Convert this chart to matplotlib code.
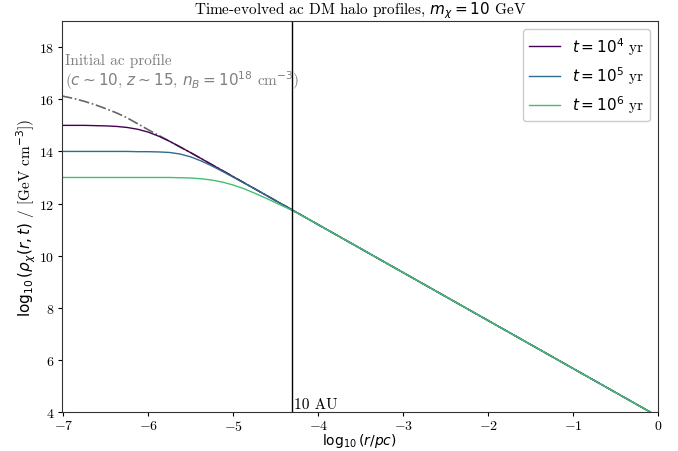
"""Time-evolved adiabatically contracted DM halo profiles."""

import matplotlib

matplotlib.use("Agg")
import matplotlib.pyplot as plt
import numpy as np

plt.rcParams["font.family"] = ["cmr10", "DejaVu Serif"]
plt.rcParams["axes.formatter.use_mathtext"] = True
plt.rcParams["mathtext.fontset"] = "dejavusans"

# log10(r / pc) sample points
log_r = [-7.02, -6.875, -6.75, -6.625, -6.5, -6.375, -6.25, -6.125, -6.0,
         -5.875, -5.75, -5.625, -5.5, -5.375, -5.25, -5.125, -5.0,
         -4.875, -4.75, -4.625, -4.5, -4.375, -4.25, -4.125, -4.0,
         -3.0, -2.0, -1.0, 0.0]

# log10(rho)
rho_initial = [16.13, 16.03, 15.92, 15.79, 15.64, 15.48, 15.29, 15.06, 14.83,
               14.61, 14.39, 14.17, 13.95, 13.72, 13.49, 13.26, 13.03,
               12.80, 12.57, 12.34, 12.11, 11.88, 11.65, 11.42, 11.19,
               9.35, 7.51, 5.67, 3.83]
rho_t4 = [15.0, 15.0, 15.0, 14.99, 14.98, 14.96, 14.92, 14.85, 14.74,
          14.58, 14.39, 14.17, 13.95, 13.72, 13.49, 13.26, 13.03,
          12.80, 12.57, 12.34, 12.11, 11.88, 11.65, 11.42, 11.19,
          9.35, 7.51, 5.67, 3.83]
rho_t5 = [14.0, 14.0, 14.0, 14.0, 14.0, 14.0, 14.0, 13.99, 13.99,
          13.98, 13.96, 13.90, 13.79, 13.63, 13.44, 13.23, 13.01,
          12.79, 12.57, 12.34, 12.11, 11.88, 11.65, 11.42, 11.19,
          9.35, 7.51, 5.67, 3.83]
rho_t6 = [13.0, 13.0, 13.0, 13.0, 13.0, 13.0, 13.0, 13.0, 13.0,
          13.0, 13.0, 12.99, 12.98, 12.95, 12.90, 12.82, 12.71,
          12.57, 12.40, 12.22, 12.03, 11.84, 11.64, 11.42, 11.19,
          9.35, 7.51, 5.67, 3.83]

profiles = [rho_t4, rho_t5, rho_t6]
labels = [r"$t = 10^4$ yr", r"$t = 10^5$ yr", r"$t = 10^6$ yr"]
au_line = -4.31

fig = plt.figure(figsize=(6.78, 4.52), dpi=100)
ax = fig.add_axes([0.091, 0.0863, 0.8795, 0.8647])

ax.plot(log_r, rho_initial, color="#666666", ls="-.", lw=1.2, zorder=1)
colors = plt.cm.viridis(np.linspace(0, 0.7, 3))
for rho, lab, col in zip(profiles, labels, colors):
    ax.plot(log_r, rho, color=col, lw=1.0, label=lab, zorder=2)

ax.axvline(au_line, color="black", lw=1.0)
ax.text(au_line + 0.02, 4.05, "10 AU", fontsize=11, ha="left", va="bottom")
ax.text(-6.98, 17.5, "Initial ac profile",
        color="#808080", fontsize=11, ha="left", va="center")
ax.text(-6.98, 16.76, r"($c \sim 10$, $z \sim 15$, $n_B = 10^{18}$ cm$^{-3}$)",
        color="#808080", fontsize=11, ha="left", va="center")

ax.set_xlim(-7.02, 0)
ax.set_ylim(4, 19)
ax.set_yticks([4, 6, 8, 10, 12, 14, 16, 18])
ax.set_title(r"Time-evolved ac DM halo profiles, $m_\chi = 10$ GeV", fontsize=11)
ax.set_xlabel(r"$\log_{10}(r/pc)$", fontsize=10)
ax.xaxis.set_label_coords(0.5, -0.048)
ax.set_ylabel(r"$\log_{10}(\rho_\chi(r,t)$ / [GeV cm$^{-3}$])", fontsize=11, labelpad=1)
ax.tick_params(labelsize=10, length=3, pad=2, direction="out")
for sp in ax.spines.values():
    sp.set_color("#333333")

ax.legend(loc="upper right", fontsize=11, framealpha=1, edgecolor="#cccccc")

fig.savefig("out.png", dpi=100)
